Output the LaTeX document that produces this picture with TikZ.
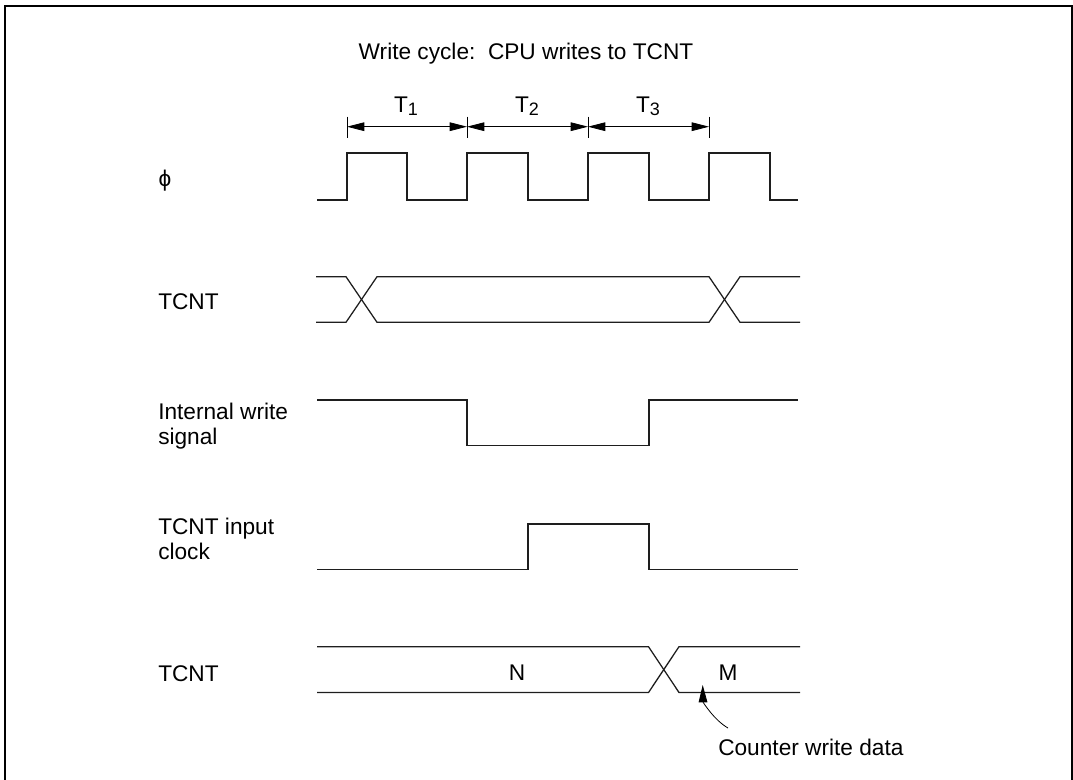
\documentclass[tikz,border=0pt]{standalone}
\usepackage{fontspec}
\setmainfont{Liberation Sans}
\usetikzlibrary{arrows.meta}
\definecolor{WaveInk}{HTML}{1E1E1E}
\newcommand{\tsub}[1]{\raisebox{-1.6pt}{\fontsize{13.5}{14}\selectfont #1}}

\begin{document}
\begin{tikzpicture}[x=0.75pt,y=-0.75pt,
  >={Triangle[length=13pt,width=6.5pt]},
  wave/.style={WaveInk,line width=0.95pt},
  dim/.style={line width=0.6pt},
  lbl/.style={inner sep=0pt,align=left,font=\fontsize{17}{18.5}\selectfont}]
  \useasboundingbox (0,0) rectangle (1073,780);
  \draw[line width=1.5pt] (5,782) -- (5,6.5) -- (1071.5,6.5) -- (1071.5,782);

  \node[lbl,anchor=base] (title) at (526,60) {Write cycle:\ \ CPU writes to TCNT};

  % state boundaries
  \coordinate (e0) at (347,126.7);
  \coordinate (e1) at (467,126.7);
  \coordinate (e2) at (588,126.7);
  \coordinate (e3) at (709,126.7);
  \foreach \e in {e0,e1,e2,e3}
    \draw[dim] ([yshift=7.5pt]\e) -- ([yshift=-8.5pt]\e);
  \draw[dim,<->] (e0) -- (e1);
  \draw[dim,<->] (e1) -- (e2);
  \draw[dim,<->] (e2) -- (e3);
  \node[lbl,anchor=base] (t1) at (406,113) {T\tsub{1}};
  \node[lbl,anchor=base] (t2) at (527,113) {T\tsub{2}};
  \node[lbl,anchor=base] (t3) at (648,113) {T\tsub{3}};

  % signal names
  \node[lbl,anchor=center] (phi) at (165,181) {\symbol{"03D5}};
  \node[lbl,anchor=base west] (cnt) at (158,309.3) {TCNT};
  \node[lbl,anchor=north west] (wr) at (158,403) {Internal write\\signal};
  \node[lbl,anchor=north west] (inclk) at (158,518) {TCNT input\\clock};
  \node[lbl,anchor=base west] (cntb) at (158,681.5) {TCNT};

  % waveforms
  \draw[wave] (317,200) -| (347,153) -| (407,200) -| (467,153) -| (528,200)
    -| (588,153) -| (649,200) -| (709,153) -| (770,200) -- (798,200);
  \draw[wave] (316,276.7) -- (346,276.7) -- (377,322.3) -- (709,322.3) -- (740,276.7) -- (800,276.7);
  \draw[wave] (316,322.3) -- (346,322.3) -- (377,276.7) -- (709,276.7) -- (740,322.3) -- (800,322.3);
  \draw[wave] (317,400) -| (467,445.7) -| (649,400) -- (798,400);
  \draw[wave] (317,569.3) -| (528,524) -| (649,569.3) -- (798,569.3);
  \draw[wave] (317,646.7) -- (648.5,646.7) -- (679,692.5) -- (800,692.5);
  \draw[wave] (317,692.5) -- (648.5,692.5) -- (679,646.7) -- (800,646.7);

  \node[lbl,anchor=base] (n) at (517,680) {N};
  \node[lbl,anchor=base] (m) at (728,680) {M};
  \node[lbl,anchor=base west] (wdata) at (718,755) {Counter write data};
  \coordinate (tip) at (702.7,685);
  \draw[line width=0.6pt,-{Triangle[length=13pt,width=6.5pt]}] (728,728)
    .. controls (714,720) and (703,702) .. (tip);
\end{tikzpicture}
\end{document}
